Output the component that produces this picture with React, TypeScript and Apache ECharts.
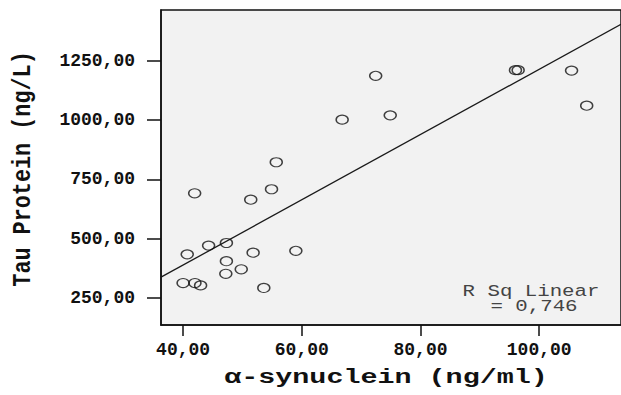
import React, { useEffect, useRef } from "react";
import * as echarts from "echarts";

// α-synuclein (ng/ml) values of each subject
const synuclein = [41.95, 51.4, 54.9, 55.7, 66.8, 72.45, 74.9, 96.0, 96.45, 105.45, 108.0, 40.7, 44.3, 47.3, 47.3, 47.2, 49.8, 51.8, 59.0, 53.6, 40.0, 42.0, 42.95];
// Tau protein (ng/L) values of each subject
const tau = [691, 664, 708, 822, 1002, 1187, 1020, 1211, 1211, 1209, 1061, 433, 470, 481, 404, 351, 370, 440, 448, 291, 312, 312, 302];

const xTicks = [40, 60, 80, 100];
const yTicks = [250, 500, 750, 1000, 1250];

// linear fit: tau = intercept + slope * synuclein
const fitIntercept = -163.3;
const fitSlope = 13.78;
const rSquared = "0,746";

const xMin = 36.28;
const xMax = 113.78;
const yMin = 134.7;
const yMax = 1465;

const fmt = (v: number) => v.toFixed(2).replace(".", ",");

export default function App() {
  const ref = useRef<HTMLDivElement>(null);
  useEffect(() => {
    if (!ref.current) return;
    const chart = echarts.init(ref.current, null, { renderer: "svg" });
    const points = synuclein.map((x, i) => [x, tau[i]]);
    const fitLine = [xMin, xMax].map((x) => [x, fitIntercept + fitSlope * x]);
    const mono = "'Liberation Mono', 'Courier New', monospace";
    chart.setOption({
      animation: false,
      backgroundColor: "#ffffff",
      grid: {
        left: 161,
        top: 10,
        right: -5,
        bottom: 70,
        show: true,
        backgroundColor: "#f2f2f2",
        borderColor: "#111",
        borderWidth: 1.5,
      },
      xAxis: {
        type: "value",
        min: xMin,
        max: xMax,
        splitLine: { show: false },
        axisLine: { show: true, lineStyle: { color: "#111", width: 1.5 } },
        axisTick: { show: true, length: 11, customValues: xTicks, lineStyle: { color: "#111", width: 1.5 } },
        axisLabel: {
          customValues: xTicks,
          formatter: (v: number) => fmt(v),
          margin: 16,
          color: "#111",
          fontFamily: mono,
          fontWeight: "bold",
          fontSize: 18,
        },
      },
      yAxis: {
        type: "value",
        min: yMin,
        max: yMax,
        splitLine: { show: false },
        axisLine: { show: true, lineStyle: { color: "#111", width: 1.5 } },
        axisTick: { show: true, length: 14, customValues: yTicks, lineStyle: { color: "#111", width: 1.5 } },
        axisLabel: {
          customValues: yTicks,
          formatter: (v: number) => fmt(v),
          margin: 26,
          color: "#111",
          fontFamily: mono,
          fontWeight: "bold",
          fontSize: 18,
        },
      },
      series: [
        {
          type: "line",
          data: fitLine,
          symbol: "none",
          lineStyle: { color: "#1a1a1a", width: 1.3 },
          z: 2,
        },
        {
          type: "scatter",
          data: points,
          symbol: "circle",
          symbolSize: [12, 9],
          itemStyle: { color: "rgba(0,0,0,0)", borderColor: "#111", borderWidth: 1.3 },
          z: 3,
        },
      ],
      graphic: [
        {
          type: "text",
          x: 386,
          y: 378,
          scaleX: 1.42,
          scaleY: 1,
          style: {
            text: "α-synuclein (ng/ml)",
            font: `bold 20px ${mono}`,
            fill: "#111",
            textAlign: "center",
            textVerticalAlign: "middle",
          },
        },
        {
          type: "text",
          x: 23,
          y: 169,
          rotation: Math.PI / 2,
          scaleX: 1.09,
          scaleY: 1.3,
          style: {
            text: "Tau Protein (ng/L)",
            font: `bold 20px ${mono}`,
            fill: "#111",
            textAlign: "center",
            textVerticalAlign: "middle",
          },
        },
        {
          type: "text",
          x: 531,
          y: 292,
          scaleX: 1.22,
          style: {
            text: "R Sq Linear",
            font: `17px ${mono}`,
            fill: "#444",
            textAlign: "center",
            textVerticalAlign: "middle",
          },
        },
        {
          type: "text",
          x: 534,
          y: 307,
          scaleX: 1.22,
          style: {
            text: "= " + rSquared,
            font: `17px ${mono}`,
            fill: "#444",
            textAlign: "center",
            textVerticalAlign: "middle",
          },
        },
      ],
    });
    return () => chart.dispose();
  }, []);
  return (
    <div
      ref={ref}
      style={{ position: "fixed", left: 0, top: 0, width: 621, height: 395 }}
    />
  );
}
